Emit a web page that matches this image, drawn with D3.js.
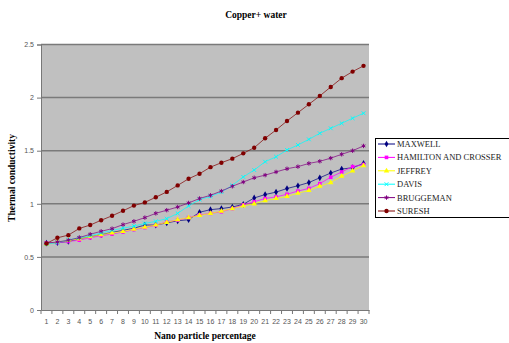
<!DOCTYPE html>
<html>
<head>
<meta charset="utf-8">
<script src="https://cdn.jsdelivr.net/npm/d3@7"></script>
<style>
  body { margin: 0; background: #fff; }
  .tick text { font-family: "Liberation Sans", Arial, sans-serif; font-size: 7px; fill: #555; }
  .ttl { font-family: "Liberation Serif", "Times New Roman", serif; font-weight: bold; }
</style>
</head>
<body>
<svg id="chart" width="509" height="343"></svg>
<script>
var categories = d3.range(1, 31);
var yTicks = [0, 0.5, 1, 1.5, 2, 2.5];

var maxwell = [0.63,0.635,0.645,0.67,0.69,0.71,0.73,0.75,0.77,0.80,0.80,0.82,0.84,0.85,0.92,0.945,0.955,0.97,0.995,1.055,1.087,1.11,1.144,1.17,1.20,1.245,1.29,1.327,1.34,1.38];
var hamilton = [0.63,0.635,0.645,0.657,0.68,0.70,0.715,0.735,0.757,0.776,0.797,0.83,0.845,0.87,0.895,0.91,0.925,0.955,0.99,1.02,1.05,1.065,1.09,1.12,1.145,1.19,1.25,1.30,1.35,1.37];
var jeffrey = [0.62,0.64,0.655,0.67,0.69,0.71,0.725,0.74,0.76,0.78,0.80,0.825,0.85,0.87,0.89,0.91,0.93,0.955,0.98,1.0,1.03,1.05,1.07,1.10,1.125,1.165,1.20,1.26,1.31,1.36];
var davis = [0.62,0.635,0.66,0.68,0.70,0.725,0.75,0.77,0.79,0.815,0.835,0.86,0.91,0.98,1.04,1.07,1.11,1.174,1.253,1.318,1.396,1.443,1.507,1.554,1.607,1.664,1.711,1.758,1.806,1.853];
var bruggeman = [0.63,0.64,0.657,0.682,0.713,0.741,0.766,0.804,0.835,0.87,0.91,0.94,0.97,1.008,1.05,1.08,1.12,1.165,1.205,1.245,1.27,1.30,1.33,1.35,1.38,1.40,1.43,1.466,1.50,1.545];
var suresh = [0.626,0.68,0.705,0.768,0.80,0.845,0.887,0.934,0.983,1.013,1.062,1.112,1.173,1.236,1.283,1.345,1.387,1.425,1.475,1.528,1.617,1.695,1.78,1.858,1.937,2.016,2.10,2.183,2.245,2.299];

var seriesNames = ["MAXWELL", "HAMILTON AND CROSSER", "JEFFREY", "DAVIS", "BRUGGEMAN", "SURESH"];
var seriesValues = [maxwell, hamilton, jeffrey, davis, bruggeman, suresh];
var colors = ["#000080", "#ff00ff", "#ffff00", "#00ffff", "#800080", "#800000"];
var symbols = [d3.symbolDiamond, d3.symbolSquare, d3.symbolTriangle, d3.symbolTimes, d3.symbolAsterisk, d3.symbolCircle];
var filled = [true, true, true, false, false, true];
var symSize = [13, 13, 13, 11, 13, 15];

var svg = d3.select("#chart");
var plot = {left: 41, right: 369, top: 44.5, bottom: 310};

var x = d3.scaleBand().domain(categories).range([plot.left, plot.right]);
var y = d3.scaleLinear().domain([0, 2.5]).range([plot.bottom, plot.top]);

svg.append("rect")
  .attr("x", plot.left).attr("y", plot.top)
  .attr("width", plot.right - plot.left).attr("height", plot.bottom - plot.top)
  .attr("fill", "#c0c0c0");

// gridlines
svg.append("g").selectAll("line").data(yTicks.filter(d => d > 0)).join("line")
  .attr("x1", plot.left).attr("x2", plot.right)
  .attr("y1", d => y(d)).attr("y2", d => y(d))
  .attr("stroke", "#7a7a7a").attr("stroke-width", 1.5);

// y axis
var yAxis = svg.append("g").attr("transform", "translate(" + plot.left + ",0)")
  .call(d3.axisLeft(y).tickValues(yTicks).tickSize(4).tickPadding(3).tickFormat(d3.format("")));
yAxis.select(".domain").attr("stroke", "#777");
yAxis.selectAll(".tick line").attr("stroke", "#777");

// x axis
var xAxis = svg.append("g").attr("transform", "translate(0," + plot.bottom + ")")
  .call(d3.axisBottom(x).tickSize(0).tickPadding(9));
xAxis.select(".domain").attr("stroke", "#777");
xAxis.append("g").selectAll("line").data(categories.concat([31])).join("line")
  .attr("x1", d => plot.left + (d - 1) * x.step()).attr("x2", d => plot.left + (d - 1) * x.step())
  .attr("y1", 0).attr("y2", 4).attr("stroke", "#777");

// series
var line = d3.line().x((d, i) => x(categories[i]) + x.bandwidth() / 2).y(d => y(d));
seriesValues.forEach(function(vals, s) {
  var g = svg.append("g");
  g.append("path").datum(vals).attr("d", line)
    .attr("fill", "none").attr("stroke", colors[s]).attr("stroke-width", 1).attr("stroke-opacity", 0.7);
  g.selectAll("path.mk").data(vals).join("path").attr("class", "mk")
    .attr("transform", (d, i) => "translate(" + (x(categories[i]) + x.bandwidth() / 2) + "," + y(d) + ")")
    .attr("d", d3.symbol().type(symbols[s]).size(symSize[s]))
    .attr("fill", filled[s] ? colors[s] : "none")
    .attr("stroke", filled[s] ? "none" : colors[s]).attr("stroke-width", 1);
});

// titles
svg.append("text").attr("class", "ttl").attr("x", 256).attr("y", 18)
  .attr("text-anchor", "middle").attr("font-size", 9.5).text("Copper+ water");
svg.append("text").attr("class", "ttl").attr("x", 205).attr("y", 339)
  .attr("text-anchor", "middle").attr("font-size", 9.5).text("Nano particle percentage");
svg.append("text").attr("class", "ttl")
  .attr("transform", "translate(15,178) rotate(-90)")
  .attr("text-anchor", "middle").attr("font-size", 9.5).text("Thermal conductivity");

// legend
var legend = svg.append("g");
legend.append("rect").attr("x", 375.5).attr("y", 138.5).attr("width", 140).attr("height", 79)
  .attr("fill", "#fff").attr("stroke", "#000").attr("stroke-width", 1);
var items = legend.selectAll("g.item").data(seriesNames).join("g").attr("class", "item")
  .attr("transform", (d, i) => "translate(378," + (144 + i * 13.4) + ")");
items.append("line").attr("x1", 0).attr("x2", 17)
  .attr("stroke", (d, i) => colors[i]).attr("stroke-width", 1);
items.append("path").attr("transform", "translate(8.5,0)")
  .attr("d", (d, i) => d3.symbol().type(symbols[i]).size(symSize[i])())
  .attr("fill", (d, i) => filled[i] ? colors[i] : "none")
  .attr("stroke", (d, i) => filled[i] ? "none" : colors[i]);
items.append("text").attr("x", 19).attr("dy", "0.35em")
  .attr("font-family", "Liberation Serif, Times New Roman, serif").attr("font-size", 8.5)
  .attr("fill", "#222").text(d => d);
</script>
</body>
</html>
